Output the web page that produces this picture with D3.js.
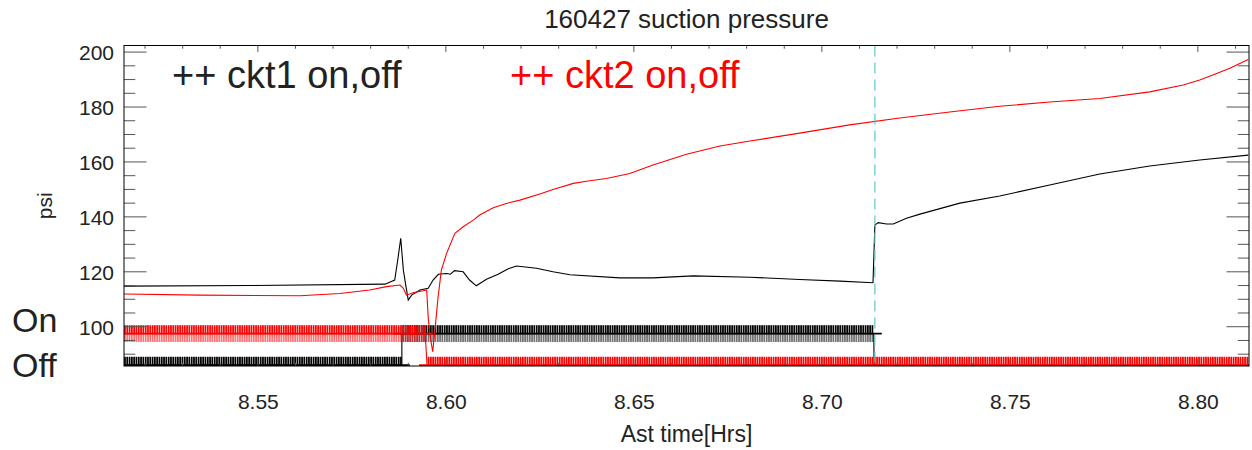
<!DOCTYPE html>
<html><head><meta charset="utf-8">
<script src="https://cdn.jsdelivr.net/npm/d3@7"></script>
<style>
body{margin:0;background:#fff;}
svg{display:block;}
text{font-family:"Liberation Sans",Arial,Helvetica,sans-serif;}
</style>
</head><body>
<svg id="c" width="1252" height="450"></svg>
<script>
// ---------- data ----------
const chartTitle = "160427 suction pressure";
const xTitle = "Ast time[Hrs]";
const yTitle = "psi";
const xDomain = [8.5144, 8.8136];
const yDomain = [85.7, 202.4];
const xTickValues = [8.55, 8.60, 8.65, 8.70, 8.75, 8.80];
const xTickLabels = ["8.55", "8.60", "8.65", "8.70", "8.75", "8.80"];
const yTickValues = [100, 120, 140, 160, 180, 200];
const yTickLabels = ["100", "120", "140", "160", "180", "200"];
const stateNames = ["On", "Off"];
const stateLevels = [97.5, 86.0];

const ckt1Time = [8.5144, 8.5479, 8.5838, 8.5864, 8.5872, 8.5880, 8.5887, 8.5894, 8.5900, 8.5909, 8.5931, 8.5953, 8.5966, 8.5980, 8.6002, 8.6012, 8.6023, 8.6046, 8.6063, 8.6081, 8.6108, 8.6139, 8.6166, 8.6188, 8.6241, 8.6285, 8.6330, 8.6463, 8.6551, 8.6658, 8.6809, 8.6941, 8.7048, 8.7136, 8.7141, 8.7150, 8.7172, 8.7190, 8.7225, 8.7261, 8.7367, 8.7473, 8.7606, 8.7739, 8.7872, 8.8005, 8.8134];
const ckt1Psi  = [114.8, 115.0, 115.5, 117.0, 124.3, 132.2, 120.6, 114.6, 109.7, 111.5, 113.4, 114.0, 117.0, 119.1, 119.4, 119.1, 120.4, 120.0, 117.0, 114.9, 117.3, 119.1, 121.1, 122.1, 121.3, 120.0, 118.9, 117.8, 117.8, 118.5, 118.0, 117.2, 116.6, 116.0, 137.0, 137.9, 137.4, 137.4, 139.5, 141.0, 145.0, 147.6, 151.6, 155.6, 158.5, 160.7, 162.5];

const ckt2Time = [8.5144, 8.5346, 8.5612, 8.5718, 8.5798, 8.5842, 8.5878, 8.5887, 8.5895, 8.5913, 8.5940, 8.5949, 8.5953, 8.5957, 8.5965, 8.5971, 8.5979, 8.5988, 8.6002, 8.6011, 8.6024, 8.6046, 8.6073, 8.6090, 8.6126, 8.6161, 8.6197, 8.6250, 8.6285, 8.6339, 8.6374, 8.6427, 8.6489, 8.6551, 8.6640, 8.6729, 8.6809, 8.6941, 8.7074, 8.7207, 8.7340, 8.7473, 8.7606, 8.7739, 8.7872, 8.7961, 8.8005, 8.8050, 8.8085, 8.8134];
const ckt2Psi  = [111.9, 111.5, 111.3, 112.1, 113.4, 114.6, 115.2, 114.0, 111.5, 112.4, 113.1, 113.4, 103.6, 97.6, 90.9, 98.8, 110.4, 120.6, 126.7, 129.7, 134.0, 136.4, 138.8, 140.7, 143.3, 144.9, 146.1, 148.3, 150.0, 152.2, 153.0, 154.0, 155.8, 158.9, 162.8, 165.8, 167.6, 170.5, 173.5, 176.0, 178.2, 180.3, 181.8, 183.1, 185.5, 188.0, 189.8, 192.2, 194.1, 197.3];

// on/off state runs: start time, end time, state
const ckt1RunStart = [8.5144, 8.5883, 8.7139];
const ckt1RunEnd   = [8.5883, 8.7138, 8.7139];
const ckt1RunState = ["Off", "On", "Off"];
const ckt2RunStart = [8.5144, 8.5950];
const ckt2RunEnd   = [8.5945, 8.8136];
const ckt2RunState = ["On", "Off"];

const markerTime = 8.7141;

const legendLabels = ["++ ckt1 on,off", "++ ckt2 on,off"];
const seriesColors = ["#000000", "#ff0000"];

// ---------- layout ----------
const m = {left: 124, right: 1249, top: 45.5, bottom: 366};
const svg = d3.select("#c");
const x = d3.scaleLinear().domain(xDomain).range([m.left, m.right]);
const y = d3.scaleLinear().domain(yDomain).range([m.bottom, m.top]);
const stateY = s => y(stateLevels[stateNames.indexOf(s)]);

const defs = svg.append("defs");
defs.append("clipPath").attr("id", "clip").append("rect")
  .attr("x", m.left).attr("y", m.top).attr("width", m.right - m.left).attr("height", m.bottom - m.top);
seriesColors.forEach((c, i) => {
  const p = defs.append("pattern").attr("id", "pat" + i).attr("patternUnits", "userSpaceOnUse")
    .attr("width", 2.3).attr("height", 20);
  p.append("rect").attr("x", 0).attr("y", 0).attr("width", 1.75).attr("height", 20).attr("fill", c);
});

const plot = svg.append("g").attr("clip-path", "url(#clip)");

function drawSeries(times, psi, color) {
  const pts = times.map((t, i) => [t, psi[i]]);
  plot.append("path").datum(pts)
    .attr("d", d3.line().x(d => x(d[0])).y(d => y(d[1])))
    .attr("fill", "none").attr("stroke", color).attr("stroke-width", 1.1);
}
function drawRuns(starts, ends, states, color, idx) {
  const half = 8.4, arm = 8;
  const g = plot.append("g");
  starts.forEach((s, i) => {
    const x0 = x(s), x1 = Math.max(x(ends[i]), x0 + 1), cy = stateY(states[i]);
    g.append("rect").attr("x", x0).attr("y", cy - half).attr("width", x1 - x0).attr("height", half)
      .attr("fill", `url(#pat${idx})`);
    g.append("rect").attr("x", x0).attr("y", cy).attr("width", x1 - x0).attr("height", half)
      .attr("fill", `url(#pat${idx})`).attr("opacity", 0.55);
    g.append("line").attr("x1", x0 - arm).attr("x2", x1 + arm).attr("y1", cy).attr("y2", cy)
      .attr("stroke", color).attr("stroke-width", 1.8);
  });
  const path = [];
  starts.forEach((s, i) => { path.push([s, states[i]]); path.push([ends[i], states[i]]); });
  g.append("path").datum(path)
    .attr("d", d3.line().x(d => x(d[0])).y(d => stateY(d[1])))
    .attr("fill", "none").attr("stroke", color).attr("stroke-width", 1.1);
}

drawSeries(ckt1Time, ckt1Psi, seriesColors[0]);
drawRuns(ckt1RunStart, ckt1RunEnd, ckt1RunState, seriesColors[0], 0);
drawSeries(ckt2Time, ckt2Psi, seriesColors[1]);
drawRuns(ckt2RunStart, ckt2RunEnd, ckt2RunState, seriesColors[1], 1);

plot.append("line").attr("x1", x(markerTime)).attr("x2", x(markerTime))
  .attr("y1", m.top).attr("y2", m.bottom)
  .attr("stroke", "#5cc6c6").attr("stroke-width", 1.2).attr("stroke-dasharray", "11,6");

// ---------- axes ----------
const tickCol = "#555";
const xMinor = d3.range(8.52, 8.815, 0.01).filter(v => !xTickValues.some(t => Math.abs(t - v) < 1e-6));
const yMinor = d3.range(90, 202, 5).filter(v => !yTickValues.includes(v));
const xl = 6.4, yl = 22.5;

const bottomAxis = d3.axisBottom(x).tickValues(xTickValues).tickFormat((d, i) => xTickLabels[i]).tickSize(0).tickPadding(0);
const ax = svg.append("g").attr("transform", `translate(0,${m.bottom})`).call(bottomAxis);
ax.select(".domain").remove();
ax.selectAll("text").attr("font-size", 21).attr("fill", "#222").attr("dy", null).attr("y", 43);

const leftAxis = d3.axisLeft(y).tickValues(yTickValues).tickFormat((d, i) => yTickLabels[i]).tickSize(0).tickPadding(0);
const ay = svg.append("g").attr("transform", `translate(${m.left},0)`).call(leftAxis);
ay.select(".domain").remove();
ay.selectAll("text").attr("font-size", 21).attr("fill", "#222").attr("x", -10).attr("dy", "0.35em");

const tk = svg.append("g").attr("stroke", tickCol).attr("stroke-width", 1);
xTickValues.forEach(v => {
  tk.append("line").attr("x1", x(v)).attr("x2", x(v)).attr("y1", m.bottom).attr("y2", m.bottom - xl);
  tk.append("line").attr("x1", x(v)).attr("x2", x(v)).attr("y1", m.top).attr("y2", m.top + xl);
});
xMinor.forEach(v => {
  tk.append("line").attr("x1", x(v)).attr("x2", x(v)).attr("y1", m.bottom).attr("y2", m.bottom - xl / 2);
  tk.append("line").attr("x1", x(v)).attr("x2", x(v)).attr("y1", m.top).attr("y2", m.top + xl / 2);
});
yTickValues.forEach(v => {
  tk.append("line").attr("x1", m.left).attr("x2", m.left + yl).attr("y1", y(v)).attr("y2", y(v));
  tk.append("line").attr("x1", m.right).attr("x2", m.right - yl).attr("y1", y(v)).attr("y2", y(v));
});
yMinor.forEach(v => {
  tk.append("line").attr("x1", m.left).attr("x2", m.left + yl / 2).attr("y1", y(v)).attr("y2", y(v));
  tk.append("line").attr("x1", m.right).attr("x2", m.right - yl / 2).attr("y1", y(v)).attr("y2", y(v));
});
svg.append("rect").attr("x", m.left).attr("y", m.top).attr("width", m.right - m.left).attr("height", m.bottom - m.top)
  .attr("fill", "none").attr("stroke", "#000").attr("stroke-width", 1);

// ---------- texts ----------
svg.append("text").attr("x", (m.left + m.right) / 2).attr("y", 28).attr("text-anchor", "middle")
  .attr("font-size", 26).attr("fill", "#222").text(chartTitle);
svg.append("text").attr("x", (m.left + m.right) / 2).attr("y", 442).attr("text-anchor", "middle")
  .attr("font-size", 23).attr("fill", "#222").text(xTitle);
svg.append("text").attr("transform", `translate(52,${(m.top + m.bottom) / 2}) rotate(-90)`).attr("text-anchor", "middle")
  .attr("font-size", 21).attr("fill", "#222").text(yTitle);

svg.append("text").attr("x", 12).attr("y", 332).attr("font-size", 34).attr("fill", "#222").text(stateNames[0]);
svg.append("text").attr("x", 12).attr("y", 377).attr("font-size", 34).attr("fill", "#222").text(stateNames[1]);

const legendX = [172, 510];
legendLabels.forEach((t, i) => {
  svg.append("text").attr("x", legendX[i]).attr("y", 88).attr("font-size", 38)
    .attr("fill", i === 0 ? "#222" : seriesColors[i]).text(t);
});
</script>
</body></html>
